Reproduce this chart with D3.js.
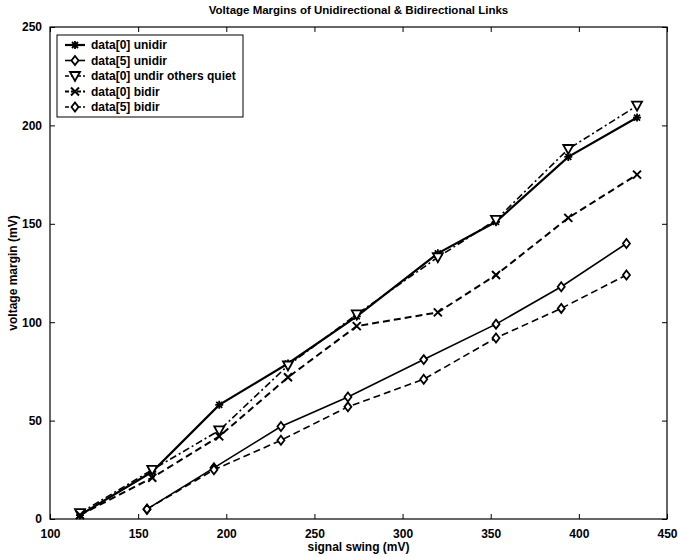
<!DOCTYPE html>
<html>
<head>
<meta charset="utf-8">
<script src="https://cdn.jsdelivr.net/npm/d3@7"></script>
<style>
  body { margin: 0; background: #fff; }
  text { font-family: "Liberation Sans", Arial, sans-serif; font-weight: bold; fill: #000; }
</style>
</head>
<body>
<div id="chart"></div>
<script>
// signal swing (mV) for each series
var swing0 = [117, 158, 196, 235, 274, 320, 353, 394, 433],
    swing5 = [155, 193, 231, 269, 312, 353, 390, 427];

// voltage margin (mV)
var data0Unidir = [2, 24, 58, 79, 103, 135, 151, 184, 204],
    data5Unidir = [5, 26, 47, 62, 81, 99, 118, 140],
    data0Quiet  = [3, 25, 45, 78, 104, 133, 152, 188, 210],
    data0Bidir  = [2, 21, 42, 72, 98, 105, 124, 153, 175],
    data5Bidir  = [5, 25, 40, 57, 71, 92, 107, 124];

var xTicks = [100, 150, 200, 250, 300, 350, 400, 450],
    yTicks = [0, 50, 100, 150, 200, 250];

var series = [
  {name: "data[0] unidir", x: swing0, y: data0Unidir, dash: null, width: 2.2, marker: "star"},
  {name: "data[5] unidir", x: swing5, y: data5Unidir, dash: null, width: 1.6, marker: "diamond"},
  {name: "data[0] undir others quiet", x: swing0, y: data0Quiet, dash: "7,3,2,3", width: 1.6, marker: "tri"},
  {name: "data[0] bidir", x: swing0, y: data0Bidir, dash: "7,4", width: 2, marker: "x"},
  {name: "data[5] bidir", x: swing5, y: data5Bidir, dash: "7,4", width: 1.6, marker: "diamond"}
];

var width = 678, height = 557,
    margin = {top: 27, right: 11, bottom: 38, left: 50};

var svg = d3.select("#chart").append("svg")
  .attr("width", width)
  .attr("height", height);

var x = d3.scaleLinear().domain([100, 450]).range([margin.left, width - margin.right]);
var y = d3.scaleLinear().domain([0, 250]).range([height - margin.bottom, margin.top]);

// axes, ticks pointing inward like matlab
svg.append("g")
  .attr("transform", "translate(0," + y(0) + ")")
  .call(d3.axisBottom(x).tickValues(xTicks).tickSizeInner(-5).tickSizeOuter(0).tickPadding(10))
  .call(function(g) { g.select(".domain").remove(); });
svg.append("g")
  .attr("transform", "translate(0," + y(250) + ")")
  .call(d3.axisTop(x).tickValues(xTicks).tickSizeInner(-5).tickSizeOuter(0).tickFormat(""))
  .call(function(g) { g.select(".domain").remove(); });
svg.append("g")
  .attr("transform", "translate(" + x(100) + ",0)")
  .call(d3.axisLeft(y).tickValues(yTicks).tickSizeInner(-5).tickSizeOuter(0).tickPadding(8))
  .call(function(g) { g.select(".domain").remove(); });
svg.append("g")
  .attr("transform", "translate(" + x(450) + ",0)")
  .call(d3.axisRight(y).tickValues(yTicks).tickSizeInner(-5).tickSizeOuter(0).tickFormat(""))
  .call(function(g) { g.select(".domain").remove(); });

svg.selectAll(".tick text").style("font-size", "12px").style("font-weight", "bold");
svg.selectAll(".tick line").attr("stroke", "#000");

svg.append("rect")
  .attr("x", x(100)).attr("y", y(250))
  .attr("width", x(450) - x(100)).attr("height", y(0) - y(250))
  .attr("fill", "none").attr("stroke", "#000").attr("stroke-width", 1.2);

function drawMarker(g, type, cx, cy) {
  var s = 4;
  if (type == "star") {
    g.append("path")
      .attr("d", "M" + (cx - s) + "," + cy + "H" + (cx + s) + "M" + cx + "," + (cy - s) + "V" + (cy + s) +
        "M" + (cx - 3) + "," + (cy - 3) + "L" + (cx + 3) + "," + (cy + 3) +
        "M" + (cx - 3) + "," + (cy + 3) + "L" + (cx + 3) + "," + (cy - 3))
      .attr("stroke", "#000").attr("stroke-width", 1.8).attr("fill", "none");
  } else if (type == "x") {
    g.append("path")
      .attr("d", "M" + (cx - s) + "," + (cy - s) + "L" + (cx + s) + "," + (cy + s) +
        "M" + (cx - s) + "," + (cy + s) + "L" + (cx + s) + "," + (cy - s))
      .attr("stroke", "#000").attr("stroke-width", 2).attr("fill", "none");
  } else if (type == "diamond") {
    g.append("path")
      .attr("d", "M" + cx + "," + (cy - 4.5) + "L" + (cx + 3.5) + "," + cy + "L" + cx + "," + (cy + 4.5) + "L" + (cx - 3.5) + "," + cy + "Z")
      .attr("stroke", "#000").attr("stroke-width", 1.8).attr("fill", "#fff");
  } else if (type == "tri") {
    g.append("path")
      .attr("d", "M" + (cx - 5) + "," + (cy - 4) + "L" + (cx + 5) + "," + (cy - 4) + "L" + cx + "," + (cy + 5) + "Z")
      .attr("stroke", "#000").attr("stroke-width", 1.8).attr("fill", "#fff");
  }
}

var line = d3.line()
  .x(function(d) { return x(d[0]); })
  .y(function(d) { return y(d[1]); });

series.forEach(function(s) {
  var pts = s.x.map(function(v, i) { return [v, s.y[i]]; });
  var g = svg.append("g");
  g.append("path")
    .datum(pts)
    .attr("d", line)
    .attr("fill", "none")
    .attr("stroke", "#000")
    .attr("stroke-width", s.width)
    .attr("stroke-dasharray", s.dash);
  pts.forEach(function(p) { drawMarker(g, s.marker, x(p[0]), y(p[1])); });
});

// legend
var lg = svg.append("g").attr("transform", "translate(57,35)");
lg.append("rect")
  .attr("width", 186).attr("height", 82)
  .attr("fill", "#fff").attr("stroke", "#000").attr("stroke-width", 1);
series.forEach(function(s, i) {
  var ly = 10 + i * 15.5;
  lg.append("line")
    .attr("x1", 8).attr("x2", 28).attr("y1", ly).attr("y2", ly)
    .attr("stroke", "#000").attr("stroke-width", s.width)
    .attr("stroke-dasharray", s.dash ? "4,2" : null);
  drawMarker(lg, s.marker, 18, ly);
  lg.append("text")
    .attr("x", 34).attr("y", ly + 4)
    .style("font-size", "12px")
    .text(s.name);
});

svg.append("text")
  .attr("x", (x(100) + x(450)) / 2).attr("y", 14)
  .attr("text-anchor", "middle")
  .style("font-size", "11.5px")
  .text("Voltage Margins of Unidirectional & Bidirectional Links");

svg.append("text")
  .attr("x", (x(100) + x(450)) / 2).attr("y", 551)
  .attr("text-anchor", "middle")
  .style("font-size", "12px")
  .text("signal swing (mV)");

svg.append("text")
  .attr("transform", "translate(17," + ((y(0) + y(250)) / 2) + ") rotate(-90)")
  .attr("text-anchor", "middle")
  .style("font-size", "12px")
  .text("voltage margin (mV)");
</script>
</body>
</html>
